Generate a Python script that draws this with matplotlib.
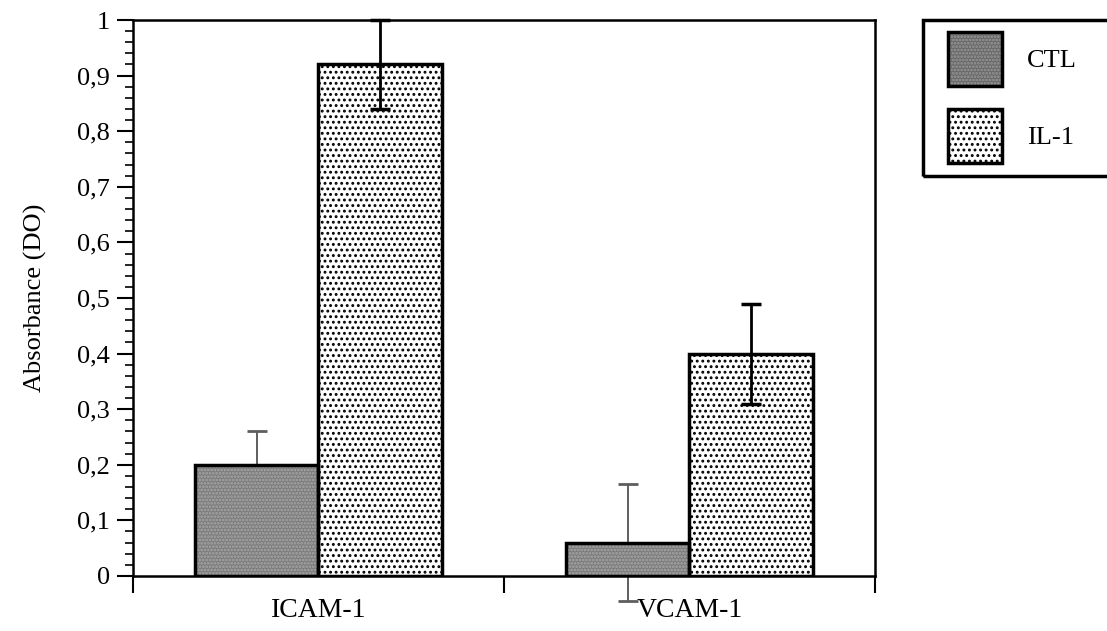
import numpy as np
import matplotlib.pyplot as plt
from matplotlib.patches import Patch, Rectangle
from matplotlib.ticker import MultipleLocator, FixedLocator, FuncFormatter, NullFormatter

plt.rcParams['font.family'] = ['Liberation Serif', 'DejaVu Serif']
plt.rcParams['hatch.linewidth'] = 1.3

# absorbance (DO), mean and error per molecule
groups = ['ICAM-1', 'VCAM-1']
ctl_mean = [0.20, 0.06]
ctl_err = [0.06, 0.105]
il1_mean = [0.92, 0.40]
il1_err = [0.08, 0.09]

ctl_face = '#7c7c7c'
ctl_dots = '#a8a8a8'

fig = plt.figure(figsize=(11.07, 6.31), dpi=100)
ax = fig.add_axes([0.1201, 0.0872, 0.6703, 0.8811])

x = np.arange(len(groups)) + 0.5
w = 1 / 3

# CTL bars: error bars sit behind the bar, stipple grey fill
eb1 = ax.errorbar(x - w / 2, ctl_mean, yerr=ctl_err, fmt='none', ecolor='#5e5e5e',
                  elinewidth=1.4, capsize=7.5, capthick=2, zorder=1)
ax.bar(x - w / 2, ctl_mean, w, color=ctl_face, edgecolor=ctl_dots, hatch='.....',
       linewidth=0, zorder=2)
ax.bar(x - w / 2, ctl_mean, w, fill=False, edgecolor='black', linewidth=2.5, zorder=3)

# IL-1 bars: white with black dots, error bars on top
ax.bar(x + w / 2, il1_mean, w, color='white', edgecolor='black', hatch='...',
       linewidth=2.5, zorder=2)
eb2 = ax.errorbar(x + w / 2, il1_mean, yerr=il1_err, fmt='none', ecolor='black',
                  elinewidth=2, capsize=7.5, capthick=2.5, zorder=4)

for eb in (eb1, eb2):
    for art in list(eb.lines[1]) + list(eb.lines[2]):
        art.set_clip_on(False)

ax.set_xlim(0, 2)
ax.set_ylim(0, 1)

ax.yaxis.set_major_locator(MultipleLocator(0.1))
ax.yaxis.set_minor_locator(MultipleLocator(0.02))
ax.yaxis.set_major_formatter(FuncFormatter(
    lambda v, pos: '0' if abs(v) < 1e-9 else ('1' if abs(v - 1) < 1e-9 else f'{v:.1f}'.replace('.', ','))))
ax.tick_params(axis='y', which='major', direction='out', length=11.5, width=1.5,
               labelsize=19, pad=5)
ax.tick_params(axis='y', which='minor', direction='out', length=5.5, width=1.2)

ax.xaxis.set_major_locator(FixedLocator([0, 1, 2]))
ax.xaxis.set_major_formatter(NullFormatter())
ax.xaxis.set_minor_locator(FixedLocator(x))
ax.xaxis.set_minor_formatter(FuncFormatter(lambda v, pos: groups[pos]))
ax.tick_params(axis='x', which='major', direction='out', length=12, width=1.5)
ax.tick_params(axis='x', which='minor', length=0, labelsize=20, pad=16)

for s in ax.spines.values():
    s.set_linewidth(1.8)

ax.set_ylabel('Absorbance (DO)', fontsize=19, labelpad=22)

# legend: entries without frame, box drawn separately so it runs off the right edge
handles = [(Patch(facecolor='#686868', edgecolor='#9a9a9a', hatch='.....', linewidth=0),
            Patch(fill=False, edgecolor='black', linewidth=2.5)),
           Patch(facecolor='white', edgecolor='black', hatch='...', linewidth=2.5)]
leg = fig.legend(handles, ['CTL', 'IL-1'], loc='upper left',
                 bbox_to_anchor=(948 / 1107, 1 - 32 / 631), bbox_transform=fig.transFigure,
                 fontsize=19, handlelength=2.05, handleheight=2.76, labelspacing=0.87,
                 handletextpad=0.95, borderpad=0, borderaxespad=0, frameon=False)
fig.patches.append(Rectangle((923 / 1107, 1 - 176 / 631), 0.3, 156 / 631,
                             transform=fig.transFigure, fill=False,
                             edgecolor='black', linewidth=2.5, clip_on=False))

fig.savefig('out.png', dpi=100)
